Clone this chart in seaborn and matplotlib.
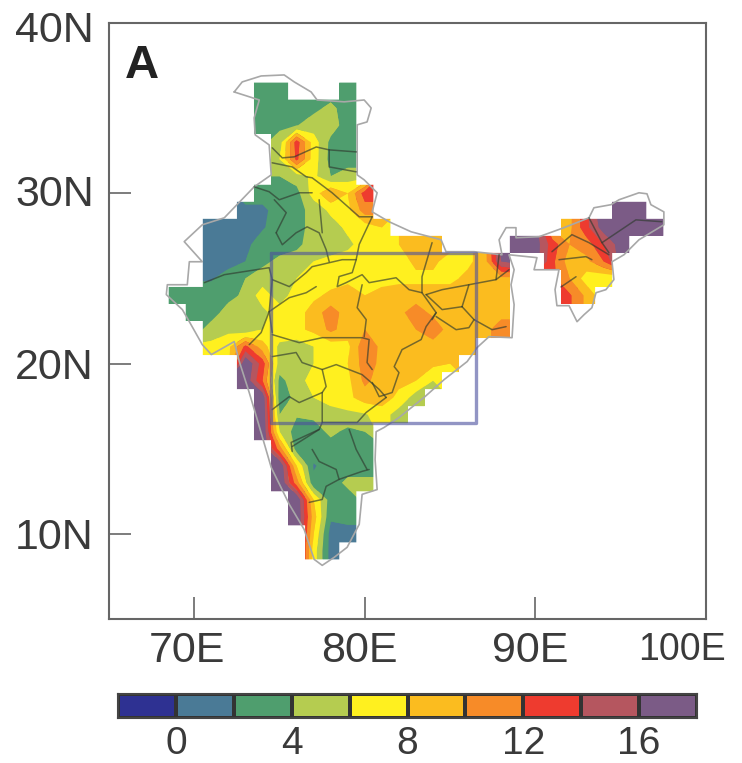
import numpy as np
import pandas as pd
import seaborn as sns
import matplotlib
matplotlib.use("Agg")
import matplotlib.pyplot as plt
from matplotlib.colors import ListedColormap
from matplotlib.path import Path
from matplotlib.transforms import ScaledTranslation

sns.set_theme(style="white")
plt.rcParams['font.family'] = ['Liberation Sans', 'DejaVu Sans']

LONS = list(range(65, 101))
LATS = list(range(40, 4, -1))
LEVELS = list(range(-2, 20, 2))
COLORS = ['#2e3192', '#4a7a96', '#4f9e6e', '#b5cc50', '#fff01f',
          '#fbbc1f', '#f78b28', '#ee3b2f', '#b5565f', '#7b5b86']
X_TICKS = [70, 80, 90, 100]
X_LABELS = ['70E', '80E', '90E', '100E']
Y_TICKS = [10, 20, 30, 40]
Y_LABELS = ['10N', '20N', '30N', '40N']
CBAR_TICKS = [0, 4, 8, 12, 16]

# lat: (first lon, values eastward)
MAIN_ROWS = {
    36: [(74, [3, 3]), (79, [3])],
    35: [(74, [3, 3, 3, 3.5, 4.5, 3])],
    34: [(74, [3.5, 3.5, 3.9, 5, 5, 3])],
    33: [(75, [5, 13, 7, 3.5, 3])],
    32: [(75, [6, 12.5, 7, 3.3, 3])],
    31: [(75, [4, 5, 6.5, 4, 5])],
    30: [(74, [3, 3, 3.3, 7, 10, 8, 13])],
    29: [(73, [1.5, 1.5, 3, 3.5, 4.5, 6.5, 7.5, 11]), (95, [18, 18])],
    28: [(71, [1, 1, 1, 1.8, 3, 3, 5, 5, 6.5, 7, 8]), (92, [9.5, 13.5, 17, 18, 18, 18])],
    27: [(71, [1, 1, 1.5, 3, 3, 3.5, 5, 5, 5.5, 7, 7, 8, 9, 9]),
         (89, [17, 17, 13, 10, 11, 14, 17])],
    26: [(71, [1, 1.2, 2, 3.5, 4.5, 5, 6, 6.5, 7, 7, 7, 7, 8.5, 8.5, 7, 7.5, 9, 16]),
         (91, [12.5, 9, 9.5, 12])],
    25: [(71, [1.8, 3, 4, 5, 5.5, 6, 7.5, 7, 7.5, 7.5, 7, 7.5, 7.5, 7.5, 7.5, 8.5, 9, 9.5]),
         (92, [10, 7, 6.5])],
    24: [(69, [3, 3, 3, 3.3, 4.5, 7, 5, 7, 7.5, 8.5, 9, 8, 9, 9, 9, 9, 9, 9, 9, 9]),
         (92, [12.3, 9.5])],
    23: [(70, [3, 3, 5, 4.5, 5.5, 7, 7, 9, 11, 9, 8.5, 9, 9.5, 11, 9.5, 9, 9, 9, 9])],
    22: [(71, [5, 5.5, 4.5, 6, 7.5, 7.5, 8.5, 10.5, 9, 10, 9.5, 10, 10, 11.5, 9, 9, 9, 11.5])],
    21: [(71, [6.5, 7.5, 12.5, 9, 5.5, 5, 6, 7, 7.5, 11.5, 9.5, 8.5, 9, 9, 9, 8.5])],
    20: [(73, [18, 13, 5, 4.5, 6, 6.5, 8, 11, 9.5, 9, 9, 8.5, 8])],
    19: [(73, [17.5, 12, 3.5, 5, 7, 7.5, 7.5, 10.5, 9, 8.5, 8, 6])],
    18: [(74, [17.5, 3, 4.5, 6, 7, 7.5, 9, 9, 7.5, 5])],
    17: [(74, [18, 4, 4.2, 4.5, 5, 5.5, 5.8, 7, 5])],
    16: [(74, [18, 6, 3, 3, 4.5, 3.5, 4])],
    15: [(75, [11, 3, 3.2, 3, 3, 3])],
    14: [(75, [18, 8, 1.8, 3, 3, 3])],
    13: [(75, [18, 11, 2.5, 3, 4.5, 4.5])],
    12: [(76, [18, 8, 3, 3])],
    11: [(76, [18, 9, 2.3, 2.7])],
    10: [(77, [8, 1.2, 1.2])],
    9: [(77, [7, 1.2])],
}
# hidden neighbours just off the coast, so the coastal bands keep their slope
OFFSHORE = {(15, 74): 18, (14, 74): 18, (13, 74): 18, (12, 75): 18,
            (11, 75): 18, (10, 76): 18, (9, 76): 18}

BORDER = [(72.34,35.95),(72.81,36.54),(73.92,36.89),(75.27,36.95),(75.86,36.54),(76.85,35.95),
 (77.2,35.48),(78.79,35.37),(79.96,35.48),(80.37,35.01),(80.13,34.19),(79.55,34.02),(79.55,31.08),
 (79.96,30.79),(80.72,30.03),(80.43,28.91),(81.42,28.33),(82.71,27.74),(84.47,27.27),(84.76,26.57),
 (86.4,26.57),(88.04,26.39),(87.87,27.27),(88.28,27.98),(88.86,27.98),(88.86,27.39),(90.21,27.45),
 (91.67,27.98),(93.14,28.56),(93.43,29.15),(94.43,29.33),(94.9,29.62),(96.07,30.03),(96.54,29.97),
 (96.77,29.33),(97.53,28.91),(97.53,28.15),(96.07,27.27),(95.19,26.39),(94.49,25.98),(94.6,24.93),
 (94.13,24.34),(93.55,24.16),(93.31,23.28),(92.85,22.87),(92.44,22.46),(91.97,23.4),(91.26,23.4),
 (91.15,24.34),(91.38,25.51),(89.92,25.51),(90.09,26.22),(88.45,26.39),(88.75,25.51),(88.57,24.63),
 (88.75,23.46),(88.63,21.52),(87.28,21.58),(86.58,20.94),(86.0,20.12),(84.65,19.06),(83.47,18.01),
 (82.0,16.83),(81.13,16.25),(80.66,16.0),(80.6,14.37),(80.72,12.6),(79.84,12.32),(79.67,10.56),
 (78.96,9.21),(78.2,8.62),(77.5,8.15),(77.03,8.5),(76.44,10.26),(75.57,11.73),(74.51,13.9),
 (73.69,16.72),(73.22,18.3),(72.64,20.12),(72.34,21.29),(71.0,20.53),(70.47,21.11),(69.71,22.46),
 (69.3,23.17),(68.36,24.05),(68.42,24.63),(69.59,24.63),(69.71,25.98),(70.47,25.98),(69.41,27.16),
 (70.47,28.15),(71.76,28.56),(73.51,30.38),(74.51,31.08),(74.39,32.84),(73.57,33.43),(73.51,34.43),
 (73.81,35.48),(72.34,35.95)]

STATES = [
 [(74.57,32.67),(75.16,32.08),(75.86,32.14),(77.15,32.72),(77.91,32.55),(79.5,32.43)],
 [(77.91,32.55),(77.91,31.55),(79.49,31.26)],
 [(74.57,31.79),(75.74,31.55),(76.56,30.97),(76.91,30.91),(78.08,30.03),(79.67,28.62),(80.43,28.62)],
 [(73.51,30.38),(74.39,30.09),(74.98,29.62),(76.15,30.03),(76.91,30.03)],
 [(74.8,27.68),(75.39,28.86),(74.69,29.62)],
 [(74.8,27.68),(75.16,26.98),(75.97,27.68),(76.62,28.03),(77.32,27.68),(77.73,26.69),(77.91,25.98)],
 [(77.32,29.62),(77.5,27.68)],
 [(74.57,24.93),(75.57,24.52),(76.56,25.34),(76.91,25.69),(78.67,26.1),(79.49,26.1),(79.26,25.34),
  (78.49,25.11),(78.38,24.52),(78.9,24.75),(79.84,25.22),(80.25,24.75),(81.83,25.04),(82.59,24.34),
  (83.35,24.16),(84.18,22.99),(83.94,22.58)],
 [(79.49,26.1),(79.67,27.0),(80.43,28.62)],
 [(83.59,24.05),(84.53,24.34),(86.1,24.63),(87.69,24.93),(88.45,25.51)],
 [(83.94,27.1),(83.35,25.1),(83.35,24.16)],
 [(87.69,24.93),(87.87,26.39)],
 [(74.57,21.7),(76.15,21.23),(77.5,21.52),(79.84,21.52),(80.25,21.41),(80.13,20.06),(80.43,19.65)],
 [(74.39,23.05),(74.57,21.82)],
 [(74.39,23.05),(75.57,23.87),(76.56,24.16),(77.15,24.52)],
 [(79.84,24.63),(79.55,23.28),(80.08,22.58),(79.96,21.58)],
 [(84.18,22.99),(83.59,22.17),(83.3,21.41),(82.18,20.82),(81.72,19.82),(82.0,19.47),(81.6,18.3),
  (80.84,18.06),(80.43,18.89)],
 [(74.57,20.41),(75.97,20.65),(76.32,20.06),(77.5,19.65),(78.32,19.94),(79.84,19.35),(80.84,18.48),(81.25,18.01)],
 [(77.5,19.65),(77.73,18.65),(77.5,18.3),(76.15,17.71),(75.57,18.06),(74.57,17.3)],
 [(77.5,18.3),(77.5,16.54),(77.32,16.13),(75.74,15.13)],
 [(81.25,18.01),(80.08,17.13),(79.55,16.54),(77.5,16.54)],
 [(85.7,23.34),(86.4,22.58),(86.1,22.11),(85.35,21.99),(84.18,22.76)],
 [(86.4,22.58),(87.46,21.99),(88.28,22.17)],
 [(83.59,24.05),(84.53,23.17),(85.7,23.34)],
 [(86.1,24.63),(85.7,23.34)],
 [(77.32,16.13),(75.68,15.37),(75.74,14.84)],
 [(76.91,14.96),(77.32,14.25),(78.32,13.78),(78.49,13.2),(77.73,12.79),(77.5,12.02),(76.74,11.85)],
 [(78.49,13.2),(79.84,13.67),(80.25,13.78)],
 [(79.08,16.13),(79.49,14.96),(80.13,13.78)],
 [(70.59,24.75),(71.76,25.22),(74.39,25.63),(74.57,24.93),(74.39,23.05),(73.92,21.82),(73.22,21.11)],
 [(93.14,28.56),(93.9,27.1),(94.31,26.51)],
 [(93.9,27.1),(95.89,28.44),(97.41,28.33)],
 [(90.97,26.57),(92.14,27.57),(93.14,27.1),(94.31,26.39)],
 [(91.38,26.1),(92.96,26.28),(93.31,26.1)],
 [(91.5,24.5),(92.38,25.1)],
]
BOX_WEST, BOX_EAST, BOX_SOUTH, BOX_NORTH = 74.5, 86.5, 16.5, 26.5

grid = pd.DataFrame(np.nan, index=LATS, columns=LONS, dtype=float)
for lat, chunks in MAIN_ROWS.items():
    for start, vals in chunks:
        for k, v in enumerate(vals):
            grid.loc[lat, start + k] = v


def X(lon):
    return np.asarray(lon, float) - LONS[0] + 0.5


def Y(lat):
    return LATS[0] - np.asarray(lat, float) + 0.5


W, H = 742, 763
fig = plt.figure(figsize=(W / 100, H / 100), dpi=100)
ax = fig.add_axes([109 / W, 1 - 619 / H, 597 / W, 596 / H])
cax = fig.add_axes([118 / W, 1 - 718 / H, 579 / W, 24 / H])
cmap = ListedColormap(COLORS)

sns.heatmap(grid, ax=ax, cmap=cmap, vmin=LEVELS[0], vmax=LEVELS[-1], cbar=False,
            xticklabels=False, yticklabels=False, square=False)

# Smooth contour bands over the cells, kept inside the cells that hold data
vals = grid.to_numpy()
known = ~np.isnan(vals)
filled = vals.copy()
for (lat, lon), v in OFFSHORE.items():
    filled[LATS.index(lat), LONS.index(lon)] = v
ki, kj = np.nonzero(~np.isnan(filled))
kv = filled[ki, kj]
for i, j in zip(*np.nonzero(np.isnan(filled))):
    filled[i, j] = kv[np.argmin((ki - i) ** 2 + (kj - j) ** 2)]
cs = ax.contourf(X(LONS), Y(LATS), filled, levels=LEVELS, colors=COLORS, antialiased=True)
verts, codes = [], []
for i, j in zip(*np.nonzero(known)):
    verts += [(j, i), (j + 1, i), (j + 1, i + 1), (j, i + 1), (j, i)]
    codes += [Path.MOVETO, Path.LINETO, Path.LINETO, Path.LINETO, Path.CLOSEPOLY]
cs.set_clip_path(Path(verts, codes), transform=ax.transData)

bx, by = zip(*BORDER)
ax.plot(X(bx), Y(by), color='#a8a8a8', lw=1.2, zorder=3)
for line in STATES:
    sx, sy = zip(*line)
    ax.plot(X(sx), Y(sy), color='#2f3a2f', alpha=0.65, lw=1.1, zorder=4)

ax.plot(X([BOX_WEST, BOX_EAST, BOX_EAST, BOX_WEST, BOX_WEST]),
        Y([BOX_NORTH, BOX_NORTH, BOX_SOUTH, BOX_SOUTH, BOX_NORTH]),
        color='#4a4f9e', alpha=0.6, lw=2.4, zorder=5)

ax.set_xlim(X(LONS[0]), X(LONS[-1]))
ax.set_ylim(Y(LATS[-1]), Y(LATS[0]))
ax.set_xticks(X(X_TICKS), X_LABELS)
ax.set_yticks(Y(Y_TICKS), Y_LABELS)
ax.tick_params(axis='x', direction='in', length=16, width=1.2, color='#666666', pad=9,
               labelsize=31, labelcolor='#3a3a3a', bottom=True)
ax.tick_params(axis='y', direction='in', length=16, width=1.2, color='#666666', pad=11,
               labelsize=31, labelcolor='#3a3a3a', left=True)
ax.set_xlabel('')
ax.set_ylabel('')
for s in ax.spines.values():
    s.set_visible(True)
    s.set_color('#666666')
    s.set_linewidth(1.5)
for lab, dx in zip(ax.get_xticklabels(), [-7, -5, -5, -24]):
    lab.set_transform(lab.get_transform() + ScaledTranslation(dx / 100, 0, fig.dpi_scale_trans))
ax.get_xticklabels()[-1].set_fontsize(27)
for lab, dy in zip(ax.get_yticklabels(), [0, 0, 3, -3]):
    lab.set_transform(lab.get_transform() + ScaledTranslation(0, dy / 100, fig.dpi_scale_trans))
ax.text(0.027, 0.908, 'A', transform=ax.transAxes, fontsize=34, fontweight='bold',
        color='#222222', va='baseline', ha='left')

mids = [[(a + b) / 2 for a, b in zip(LEVELS[:-1], LEVELS[1:])]]
sns.heatmap(mids, ax=cax, cmap=cmap, vmin=LEVELS[0], vmax=LEVELS[-1], cbar=False,
            linewidths=1.5, linecolor='#333333', xticklabels=False, yticklabels=False)
cax.set_xticks([LEVELS.index(t) for t in CBAR_TICKS], [str(t) for t in CBAR_TICKS])
cax.tick_params(axis='x', length=0, pad=6, labelsize=28, labelcolor='#3a3a3a', bottom=False)
cax.set_yticks([])
for s in cax.spines.values():
    s.set_visible(True)
    s.set_color('#444444')
    s.set_linewidth(1.5)

fig.savefig('out.png', dpi=100)
